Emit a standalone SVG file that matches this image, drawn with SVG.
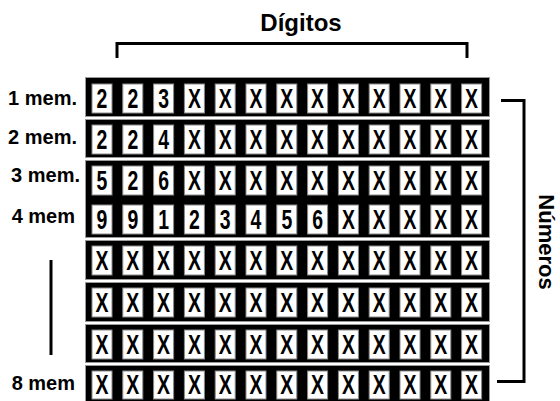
<svg xmlns="http://www.w3.org/2000/svg" width="560" height="401" viewBox="0 0 560 401">
<style>
.band{fill:#000;stroke:#9a9a9a;stroke-width:1}
.c{fill:#fff;stroke:#8a8a8a;stroke-width:1}
.t{font-family:"Liberation Sans",Arial,sans-serif;font-weight:bold;font-size:27px;text-anchor:middle;fill:#000}
.lb{font-family:"Liberation Sans",Arial,sans-serif;font-weight:bold;font-size:20px;text-anchor:end;fill:#000}
.ttl{font-family:"Liberation Sans",Arial,sans-serif;font-weight:bold;font-size:24px;text-anchor:middle;fill:#000}
.ln{fill:none;stroke:#000;stroke-width:3}
</style>
<rect width="560" height="401" fill="#fff"/>
<g id="title"><text class="ttl" x="301" y="31">Dígitos</text></g>
<g id="numeros"><text class="ttl" font-size="22" style="font-size:22px" transform="translate(539 242) rotate(90)">Números</text></g>
<g id="labels">
<text class="lb" x="77" y="105">1 mem.</text>
<text class="lb" x="77" y="144">2 mem.</text>
<text class="lb" x="80" y="182">3 mem.</text>
<text class="lb" x="75" y="223">4 mem</text>
<text class="lb" x="75" y="390">8 mem</text>
</g>
<g id="connectors">
<path class="ln" d="M117 58V43.5H467V58"/>
<path class="ln" d="M501 100.5H524V381.5H497"/>
<path class="ln" d="M51 260V355"/>
</g>
<g id="bands">
<rect class="band" x="85.5" y="77.5" width="404" height="39"/>
<rect class="band" x="85.5" y="119.5" width="404" height="38"/>
<rect class="band" x="85.5" y="160.5" width="404" height="77"/>
<rect class="band" x="85.5" y="240.5" width="404" height="39"/>
<rect class="band" x="85.5" y="282.5" width="404" height="39"/>
<rect class="band" x="85.5" y="324.5" width="404" height="38"/>
<rect class="band" x="85.5" y="365.5" width="404" height="40"/>
</g>
<g id="row1">
<rect class="c" x="92" y="84" width="20" height="29"/><rect class="c" x="122.8" y="84" width="20" height="29"/><rect class="c" x="153.6" y="84" width="20" height="29"/><rect class="c" x="184.4" y="84" width="20" height="29"/><rect class="c" x="215.2" y="84" width="20" height="29"/><rect class="c" x="246" y="84" width="20" height="29"/><rect class="c" x="276.8" y="84" width="20" height="29"/><rect class="c" x="307.6" y="84" width="20" height="29"/><rect class="c" x="338.4" y="84" width="20" height="29"/><rect class="c" x="369.2" y="84" width="20" height="29"/><rect class="c" x="400" y="84" width="20" height="29"/><rect class="c" x="430.8" y="84" width="20" height="29"/><rect class="c" x="461.6" y="84" width="20" height="29"/>
<g transform="scale(0.72 1)">
<text class="t" x="141.67" y="108">2</text><text class="t" x="184.44" y="108">2</text><text class="t" x="227.22" y="108">3</text><text class="t" x="270" y="108">X</text><text class="t" x="312.78" y="108">X</text><text class="t" x="355.56" y="108">X</text><text class="t" x="398.33" y="108">X</text><text class="t" x="441.11" y="108">X</text><text class="t" x="483.89" y="108">X</text><text class="t" x="526.67" y="108">X</text><text class="t" x="569.44" y="108">X</text><text class="t" x="612.22" y="108">X</text><text class="t" x="655" y="108">X</text>
</g>
</g>
<g id="row2">
<rect class="c" x="92" y="125" width="20" height="29"/><rect class="c" x="122.8" y="125" width="20" height="29"/><rect class="c" x="153.6" y="125" width="20" height="29"/><rect class="c" x="184.4" y="125" width="20" height="29"/><rect class="c" x="215.2" y="125" width="20" height="29"/><rect class="c" x="246" y="125" width="20" height="29"/><rect class="c" x="276.8" y="125" width="20" height="29"/><rect class="c" x="307.6" y="125" width="20" height="29"/><rect class="c" x="338.4" y="125" width="20" height="29"/><rect class="c" x="369.2" y="125" width="20" height="29"/><rect class="c" x="400" y="125" width="20" height="29"/><rect class="c" x="430.8" y="125" width="20" height="29"/><rect class="c" x="461.6" y="125" width="20" height="29"/>
<g transform="scale(0.72 1)">
<text class="t" x="141.67" y="149">2</text><text class="t" x="184.44" y="149">2</text><text class="t" x="227.22" y="149">4</text><text class="t" x="270" y="149">X</text><text class="t" x="312.78" y="149">X</text><text class="t" x="355.56" y="149">X</text><text class="t" x="398.33" y="149">X</text><text class="t" x="441.11" y="149">X</text><text class="t" x="483.89" y="149">X</text><text class="t" x="526.67" y="149">X</text><text class="t" x="569.44" y="149">X</text><text class="t" x="612.22" y="149">X</text><text class="t" x="655" y="149">X</text>
</g>
</g>
<g id="row3">
<rect class="c" x="92" y="166" width="20" height="29"/><rect class="c" x="122.8" y="166" width="20" height="29"/><rect class="c" x="153.6" y="166" width="20" height="29"/><rect class="c" x="184.4" y="166" width="20" height="29"/><rect class="c" x="215.2" y="166" width="20" height="29"/><rect class="c" x="246" y="166" width="20" height="29"/><rect class="c" x="276.8" y="166" width="20" height="29"/><rect class="c" x="307.6" y="166" width="20" height="29"/><rect class="c" x="338.4" y="166" width="20" height="29"/><rect class="c" x="369.2" y="166" width="20" height="29"/><rect class="c" x="400" y="166" width="20" height="29"/><rect class="c" x="430.8" y="166" width="20" height="29"/><rect class="c" x="461.6" y="166" width="20" height="29"/>
<g transform="scale(0.72 1)">
<text class="t" x="141.67" y="190">5</text><text class="t" x="184.44" y="190">2</text><text class="t" x="227.22" y="190">6</text><text class="t" x="270" y="190">X</text><text class="t" x="312.78" y="190">X</text><text class="t" x="355.56" y="190">X</text><text class="t" x="398.33" y="190">X</text><text class="t" x="441.11" y="190">X</text><text class="t" x="483.89" y="190">X</text><text class="t" x="526.67" y="190">X</text><text class="t" x="569.44" y="190">X</text><text class="t" x="612.22" y="190">X</text><text class="t" x="655" y="190">X</text>
</g>
</g>
<g id="row4">
<rect class="c" x="92" y="205" width="20" height="29"/><rect class="c" x="122.8" y="205" width="20" height="29"/><rect class="c" x="153.6" y="205" width="20" height="29"/><rect class="c" x="184.4" y="205" width="20" height="29"/><rect class="c" x="215.2" y="205" width="20" height="29"/><rect class="c" x="246" y="205" width="20" height="29"/><rect class="c" x="276.8" y="205" width="20" height="29"/><rect class="c" x="307.6" y="205" width="20" height="29"/><rect class="c" x="338.4" y="205" width="20" height="29"/><rect class="c" x="369.2" y="205" width="20" height="29"/><rect class="c" x="400" y="205" width="20" height="29"/><rect class="c" x="430.8" y="205" width="20" height="29"/><rect class="c" x="461.6" y="205" width="20" height="29"/>
<g transform="scale(0.72 1)">
<text class="t" x="141.67" y="229">9</text><text class="t" x="184.44" y="229">9</text><text class="t" x="227.22" y="229">1</text><text class="t" x="270" y="229">2</text><text class="t" x="312.78" y="229">3</text><text class="t" x="355.56" y="229">4</text><text class="t" x="398.33" y="229">5</text><text class="t" x="441.11" y="229">6</text><text class="t" x="483.89" y="229">X</text><text class="t" x="526.67" y="229">X</text><text class="t" x="569.44" y="229">X</text><text class="t" x="612.22" y="229">X</text><text class="t" x="655" y="229">X</text>
</g>
</g>
<g id="row5">
<rect class="c" x="92" y="246" width="20" height="29"/><rect class="c" x="122.8" y="246" width="20" height="29"/><rect class="c" x="153.6" y="246" width="20" height="29"/><rect class="c" x="184.4" y="246" width="20" height="29"/><rect class="c" x="215.2" y="246" width="20" height="29"/><rect class="c" x="246" y="246" width="20" height="29"/><rect class="c" x="276.8" y="246" width="20" height="29"/><rect class="c" x="307.6" y="246" width="20" height="29"/><rect class="c" x="338.4" y="246" width="20" height="29"/><rect class="c" x="369.2" y="246" width="20" height="29"/><rect class="c" x="400" y="246" width="20" height="29"/><rect class="c" x="430.8" y="246" width="20" height="29"/><rect class="c" x="461.6" y="246" width="20" height="29"/>
<g transform="scale(0.72 1)">
<text class="t" x="141.67" y="270">X</text><text class="t" x="184.44" y="270">X</text><text class="t" x="227.22" y="270">X</text><text class="t" x="270" y="270">X</text><text class="t" x="312.78" y="270">X</text><text class="t" x="355.56" y="270">X</text><text class="t" x="398.33" y="270">X</text><text class="t" x="441.11" y="270">X</text><text class="t" x="483.89" y="270">X</text><text class="t" x="526.67" y="270">X</text><text class="t" x="569.44" y="270">X</text><text class="t" x="612.22" y="270">X</text><text class="t" x="655" y="270">X</text>
</g>
</g>
<g id="row6">
<rect class="c" x="92" y="288" width="20" height="29"/><rect class="c" x="122.8" y="288" width="20" height="29"/><rect class="c" x="153.6" y="288" width="20" height="29"/><rect class="c" x="184.4" y="288" width="20" height="29"/><rect class="c" x="215.2" y="288" width="20" height="29"/><rect class="c" x="246" y="288" width="20" height="29"/><rect class="c" x="276.8" y="288" width="20" height="29"/><rect class="c" x="307.6" y="288" width="20" height="29"/><rect class="c" x="338.4" y="288" width="20" height="29"/><rect class="c" x="369.2" y="288" width="20" height="29"/><rect class="c" x="400" y="288" width="20" height="29"/><rect class="c" x="430.8" y="288" width="20" height="29"/><rect class="c" x="461.6" y="288" width="20" height="29"/>
<g transform="scale(0.72 1)">
<text class="t" x="141.67" y="312">X</text><text class="t" x="184.44" y="312">X</text><text class="t" x="227.22" y="312">X</text><text class="t" x="270" y="312">X</text><text class="t" x="312.78" y="312">X</text><text class="t" x="355.56" y="312">X</text><text class="t" x="398.33" y="312">X</text><text class="t" x="441.11" y="312">X</text><text class="t" x="483.89" y="312">X</text><text class="t" x="526.67" y="312">X</text><text class="t" x="569.44" y="312">X</text><text class="t" x="612.22" y="312">X</text><text class="t" x="655" y="312">X</text>
</g>
</g>
<g id="row7">
<rect class="c" x="92" y="330" width="20" height="29"/><rect class="c" x="122.8" y="330" width="20" height="29"/><rect class="c" x="153.6" y="330" width="20" height="29"/><rect class="c" x="184.4" y="330" width="20" height="29"/><rect class="c" x="215.2" y="330" width="20" height="29"/><rect class="c" x="246" y="330" width="20" height="29"/><rect class="c" x="276.8" y="330" width="20" height="29"/><rect class="c" x="307.6" y="330" width="20" height="29"/><rect class="c" x="338.4" y="330" width="20" height="29"/><rect class="c" x="369.2" y="330" width="20" height="29"/><rect class="c" x="400" y="330" width="20" height="29"/><rect class="c" x="430.8" y="330" width="20" height="29"/><rect class="c" x="461.6" y="330" width="20" height="29"/>
<g transform="scale(0.72 1)">
<text class="t" x="141.67" y="354">X</text><text class="t" x="184.44" y="354">X</text><text class="t" x="227.22" y="354">X</text><text class="t" x="270" y="354">X</text><text class="t" x="312.78" y="354">X</text><text class="t" x="355.56" y="354">X</text><text class="t" x="398.33" y="354">X</text><text class="t" x="441.11" y="354">X</text><text class="t" x="483.89" y="354">X</text><text class="t" x="526.67" y="354">X</text><text class="t" x="569.44" y="354">X</text><text class="t" x="612.22" y="354">X</text><text class="t" x="655" y="354">X</text>
</g>
</g>
<g id="row8">
<rect class="c" x="92" y="371" width="20" height="28"/><rect class="c" x="122.8" y="371" width="20" height="28"/><rect class="c" x="153.6" y="371" width="20" height="28"/><rect class="c" x="184.4" y="371" width="20" height="28"/><rect class="c" x="215.2" y="371" width="20" height="28"/><rect class="c" x="246" y="371" width="20" height="28"/><rect class="c" x="276.8" y="371" width="20" height="28"/><rect class="c" x="307.6" y="371" width="20" height="28"/><rect class="c" x="338.4" y="371" width="20" height="28"/><rect class="c" x="369.2" y="371" width="20" height="28"/><rect class="c" x="400" y="371" width="20" height="28"/><rect class="c" x="430.8" y="371" width="20" height="28"/><rect class="c" x="461.6" y="371" width="20" height="28"/>
<g transform="scale(0.72 1)">
<text class="t" x="141.67" y="394">X</text><text class="t" x="184.44" y="394">X</text><text class="t" x="227.22" y="394">X</text><text class="t" x="270" y="394">X</text><text class="t" x="312.78" y="394">X</text><text class="t" x="355.56" y="394">X</text><text class="t" x="398.33" y="394">X</text><text class="t" x="441.11" y="394">X</text><text class="t" x="483.89" y="394">X</text><text class="t" x="526.67" y="394">X</text><text class="t" x="569.44" y="394">X</text><text class="t" x="612.22" y="394">X</text><text class="t" x="655" y="394">X</text>
</g>
</g>
</svg>
